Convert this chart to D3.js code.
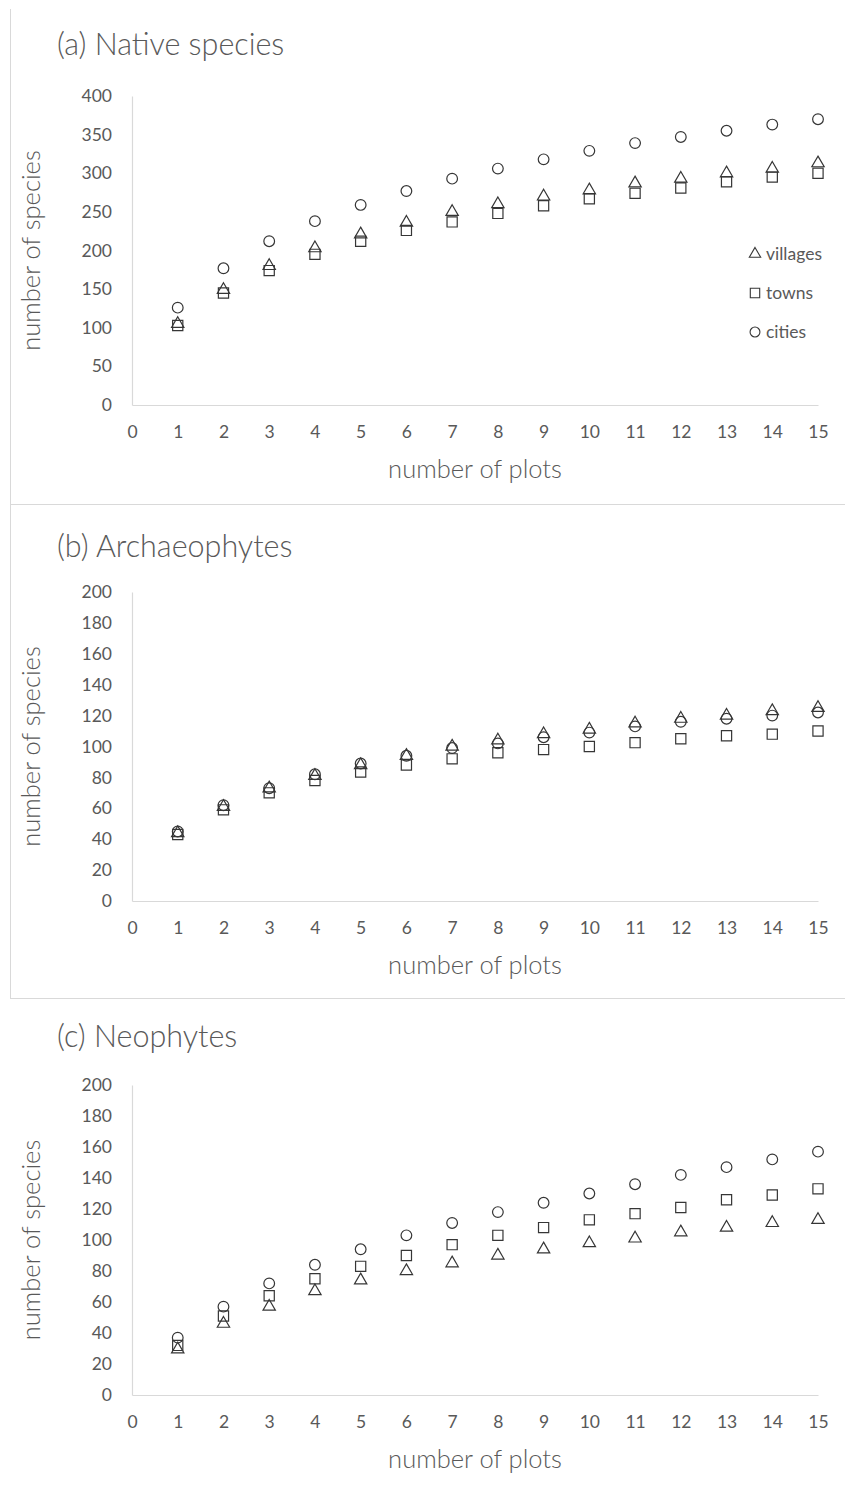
<!DOCTYPE html>
<html>
<head>
<meta charset="utf-8">
<script src="https://cdn.jsdelivr.net/npm/d3@7/dist/d3.min.js"></script>
<style>
  html, body { margin: 0; padding: 0; background: #fff; }
  svg { display: block; font-family: Lato, "Open Sans", sans-serif; }
</style>
</head>
<body>
<svg id="chart" width="845" height="1499"></svg>
<script>
// Number of plots sampled (x values) and axis ticks
const plots = [1, 2, 3, 4, 5, 6, 7, 8, 9, 10, 11, 12, 13, 14, 15];
const xTicks = [0, 1, 2, 3, 4, 5, 6, 7, 8, 9, 10, 11, 12, 13, 14, 15];

// (a) Native species
const nativeVillages = [105, 149, 180, 203, 221, 236, 250, 260, 270, 278, 287, 293, 300, 306, 313];
const nativeTowns    = [103, 145, 174, 195, 212, 226, 237, 248, 258, 267, 274, 281, 289, 295, 300];
const nativeCities   = [126, 177, 212, 238, 259, 277, 293, 306, 318, 329, 339, 347, 355, 363, 370];
const nativeYTicks   = [0, 50, 100, 150, 200, 250, 300, 350, 400];

// (b) Archaeophytes
const archVillages = [44, 61, 73, 81, 88, 94, 100, 104, 108, 111, 115, 118, 120, 123, 125];
const archTowns    = [43, 59, 70, 78, 83.5, 88, 92, 96, 98, 100, 102.5, 105, 107, 108, 110];
const archCities   = [45, 62, 73, 82, 89, 94, 99, 102, 106, 109, 113, 116, 118, 120, 122];
const archYTicks   = [0, 20, 40, 60, 80, 100, 120, 140, 160, 180, 200];

// (c) Neophytes
const neoVillages = [29.5, 46, 57, 67, 74, 80, 85, 90, 94, 98, 101, 105, 108, 111, 113];
const neoTowns    = [32, 51, 64, 75, 83, 90, 97, 103, 108, 113, 117, 121, 126, 129, 133];
const neoCities   = [37, 57, 72, 84, 94, 103, 111, 118, 124, 130, 136, 142, 147, 152, 157];
const neoYTicks   = [0, 20, 40, 60, 80, 100, 120, 140, 160, 180, 200];

const seriesNames = ["villages", "towns", "cities"];
const seriesShapes = [d3.symbolTriangle, d3.symbolSquare, d3.symbolCircle];

const panels = [
  { title: "(a) Native species", yMax: 400, yTicks: nativeYTicks,
    series: [nativeVillages, nativeTowns, nativeCities],
    titleY: 55, top: 96, bottom: 405, legend: true, frame: [9, 504] },
  { title: "(b) Archaeophytes", yMax: 200, yTicks: archYTicks,
    series: [archVillages, archTowns, archCities],
    titleY: 557, top: 592, bottom: 901, legend: false, frame: [504, 998] },
  { title: "(c) Neophytes", yMax: 200, yTicks: neoYTicks,
    series: [neoVillages, neoTowns, neoCities],
    titleY: 1047, top: 1085, bottom: 1395, legend: false, frame: null }
];

const svg = d3.select("#chart");
svg.append("rect").attr("width", 845).attr("height", 1499).attr("fill", "#fff");

const textColor = "#595959";
const axisColor = "#d9d9d9";
const markColor = "#363636";
const left = 132, right = 818;

// Marker paths: triangle, square and circle outlines of similar visual size
const symbolSizes = [66, 104, 90];
function markerPath(i, scale = 1) {
  return d3.symbol().type(seriesShapes[i]).size(symbolSizes[i] * scale)();
}

panels.forEach(p => {
  const g = svg.append("g");

  // chart-area frame (left and bottom edges)
  if (p.frame) {
    g.append("line").attr("x1", 10.5).attr("x2", 10.5)
      .attr("y1", p.frame[0]).attr("y2", p.frame[1])
      .attr("stroke", axisColor).attr("stroke-width", 1);
    g.append("line").attr("x1", 10).attr("x2", 845)
      .attr("y1", p.frame[1] + 0.5).attr("y2", p.frame[1] + 0.5)
      .attr("stroke", axisColor).attr("stroke-width", 1);
  }

  const x = d3.scaleLinear().domain([0, 15]).range([left, right]);
  const y = d3.scaleLinear().domain([0, p.yMax]).range([p.bottom, p.top]);

  // title
  g.append("text").attr("x", 57).attr("y", p.titleY)
    .attr("fill", textColor).attr("font-size", 30.5).attr("font-weight", 300)
    .text(p.title);

  // y axis
  const yAxis = g.append("g").attr("transform", `translate(${left},0)`)
    .call(d3.axisLeft(y).tickValues(p.yTicks).tickSize(0).tickSizeOuter(0).tickPadding(20));
  // x axis
  const xAxis = g.append("g").attr("transform", `translate(0,${p.bottom})`)
    .call(d3.axisBottom(x).tickValues(xTicks).tickSize(0).tickSizeOuter(0).tickPadding(21));

  [yAxis, xAxis].forEach(a => {
    a.select(".domain").attr("stroke", axisColor).attr("stroke-width", 1.2);
    a.selectAll("text").attr("fill", textColor).attr("font-size", 17.5)
      .attr("font-family", "Lato, 'Open Sans', sans-serif");
  });

  // axis titles
  g.append("text").attr("x", (left + right) / 2).attr("y", p.bottom + 73)
    .attr("text-anchor", "middle").attr("fill", textColor).attr("font-size", 25.5)
    .attr("font-weight", 300)
    .text("number of plots");
  g.append("text")
    .attr("transform", `translate(40,${(p.top + p.bottom) / 2}) rotate(-90)`)
    .attr("text-anchor", "middle").attr("fill", textColor).attr("font-size", 25.5)
    .attr("font-weight", 300)
    .text("number of species");

  // markers: draw villages, towns, cities in order
  p.series.forEach((vals, si) => {
    g.append("g").selectAll("path")
      .data(vals.map((v, i) => ({ n: plots[i], v })))
      .join("path")
      .attr("transform", d => `translate(${x(d.n)},${y(d.v)})`)
      .attr("d", markerPath(si))
      .attr("fill", "none")
      .attr("stroke", markColor)
      .attr("stroke-width", 1.2);
  });

  // legend
  if (p.legend) {
    const ly = [254, 293, 332];
    seriesNames.forEach((name, si) => {
      g.append("path")
        .attr("transform", `translate(755,${ly[si]})`)
        .attr("d", markerPath(si, 0.85))
        .attr("fill", "none").attr("stroke", markColor).attr("stroke-width", 1.1);
      g.append("text").attr("x", 766).attr("y", ly[si]).attr("dy", "0.35em")
        .attr("fill", textColor).attr("font-size", 17.5).text(name);
    });
  }
});
</script>
</body>
</html>
